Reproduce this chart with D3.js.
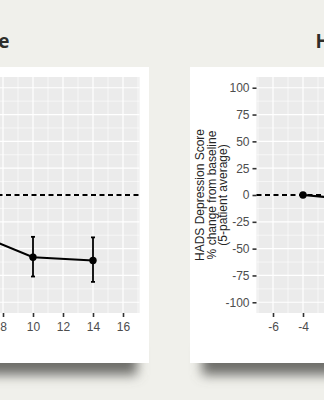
<!DOCTYPE html>
<html>
<head>
<meta charset="utf-8">
<script src="https://cdn.jsdelivr.net/npm/d3@7"></script>
<style>
  html, body { margin: 0; padding: 0; background: #f0f0eb; }
  svg { display: block; }
</style>
</head>
<body>
<svg id="chart" width="324" height="400"></svg>
<script>
// ---- data ----
const xTicks = [-6, -4, -2, 0, 2, 4, 6, 8, 10, 12, 14, 16];
const yTicks = [-100, -75, -50, -25, 0, 25, 50, 75, 100];

const anxietyWeeks = [6, 10, 14];
const anxietyMean  = [-35, -58, -61];
const anxietyLow   = [-55, -76, -81];
const anxietyHigh  = [-15, -39, -39.5];

const depressionWeeks = [-4, 0];
const depressionMean  = [0, -5];

const leftTitle  = "HADS Anxiety Score";
const rightTitle = "HADS Depression Score";
const yLabelLines = ["HADS Depression Score", "% change from baseline", "(5-patient average)"];

// ---- layout ----
const svg = d3.select("#chart");
const defs = svg.append("defs");
const blur = defs.append("filter").attr("id", "shadow")
  .attr("x", "-20%").attr("y", "-50%").attr("width", "140%").attr("height", "200%");
blur.append("feGaussianBlur").attr("stdDeviation", 6);

const panelW = 363, panelTop = 77, panelBottom = 313;
const x = d3.scaleLinear().domain([-7.1, 17.1]).range([0, panelW]);
const y = d3.scaleLinear().domain([-110, 110]).range([panelBottom, panelTop]);

// cards (with shadows)
function card(x0, x1) {
  svg.append("rect").attr("x", x0 + 12).attr("y", 347).attr("width", x1 - x0 - 24).attr("height", 28)
    .attr("fill", "#6e6e6a").attr("filter", "url(#shadow)");
  svg.append("rect").attr("x", x0).attr("y", 67).attr("width", x1 - x0).attr("height", 296)
    .attr("fill", "#ffffff");
}
card(-260, 149);
card(190, 600);

// titles
svg.append("text").attr("x", 9.5).attr("y", 47.5).attr("text-anchor", "end")
  .attr("font-family", "'Open Sans', 'DejaVu Sans', sans-serif").attr("font-weight", "bold")
  .attr("font-size", 19).attr("fill", "#2e2e2a").text(leftTitle);
svg.append("text").attr("x", 315.5).attr("y", 47.5).attr("text-anchor", "start")
  .attr("font-family", "'Open Sans', 'DejaVu Sans', sans-serif").attr("font-weight", "bold")
  .attr("font-size", 19).attr("fill", "#2e2e2a").text(rightTitle);

function panel(tx, weeks, mean, low, high, showYAxis) {
  const g = svg.append("g").attr("transform", `translate(${tx},0)`);
  g.append("rect").attr("x", 0).attr("y", panelTop).attr("width", panelW)
    .attr("height", panelBottom - panelTop).attr("fill", "#ebebeb");
  // minor grid
  const xMinor = d3.range(-7, 18, 2);
  const yMinor = d3.range(-87.5, 100, 25);
  g.selectAll(".vmin").data(xMinor).join("line")
    .attr("x1", d => x(d)).attr("x2", d => x(d)).attr("y1", panelTop).attr("y2", panelBottom)
    .attr("stroke", "#fff").attr("stroke-width", 0.6);
  g.selectAll(".hmin").data(yMinor).join("line")
    .attr("x1", 0).attr("x2", panelW).attr("y1", d => y(d)).attr("y2", d => y(d))
    .attr("stroke", "#fff").attr("stroke-width", 0.6);
  // major grid
  g.selectAll(".vmaj").data(xTicks).join("line")
    .attr("x1", d => x(d)).attr("x2", d => x(d)).attr("y1", panelTop).attr("y2", panelBottom)
    .attr("stroke", "#fff").attr("stroke-width", 1.2);
  g.selectAll(".hmaj").data(yTicks).join("line")
    .attr("x1", 0).attr("x2", panelW).attr("y1", d => y(d)).attr("y2", d => y(d))
    .attr("stroke", "#fff").attr("stroke-width", 1.2);

  // x axis
  const xa = g.append("g").attr("transform", `translate(0,${panelBottom})`)
    .call(d3.axisBottom(x).tickValues(xTicks).tickSize(4).tickPadding(5).tickFormat(d3.format("d")));
  xa.select(".domain").remove();
  xa.selectAll(".tick line").attr("stroke", "#333").attr("stroke-width", 1.6);
  xa.selectAll(".tick text").attr("fill", "#4d4d4d").attr("font-size", 12)
    .attr("font-family", "'Liberation Sans Narrow', 'Liberation Sans', Arial, sans-serif")
    .text(d => d < 0 ? "-" + Math.abs(d) : d);

  if (showYAxis) {
    const ya = g.append("g")
      .call(d3.axisLeft(y).tickValues(yTicks).tickSize(4).tickPadding(3));
    ya.select(".domain").remove();
    ya.selectAll(".tick line").attr("stroke", "#333").attr("stroke-width", 1.6);
    ya.selectAll(".tick text").attr("fill", "#4d4d4d").attr("font-size", 12)
      .attr("font-family", "'Liberation Sans Narrow', 'Liberation Sans', Arial, sans-serif")
      .text(d => d < 0 ? "-" + Math.abs(d) : d);
    const lbl = g.append("text").attr("transform", `translate(-52.5,${y(0)}) rotate(-90)`)
      .attr("text-anchor", "middle").attr("font-size", 12).attr("fill", "#262626")
      .attr("font-family", "'Liberation Sans', Arial, sans-serif");
    yLabelLines.forEach((t, i) => {
      lbl.append("tspan").attr("x", 0).attr("dy", i === 0 ? 0 : 11.5).text(t);
    });
  }

  // reference line
  g.append("line").attr("x1", 0).attr("x2", panelW).attr("y1", y(0)).attr("y2", y(0))
    .attr("stroke", "#000").attr("stroke-width", 1.8).attr("stroke-dasharray", "5,3.5");

  const pts = weeks.map((w, i) => ({ w, m: mean[i], lo: low ? low[i] : null, hi: high ? high[i] : null }));
  g.append("path").datum(pts)
    .attr("d", d3.line().x(d => x(d.w)).y(d => y(d.m)))
    .attr("fill", "none").attr("stroke", "#000").attr("stroke-width", 2);

  const eb = pts.filter(d => d.lo !== null);
  g.selectAll(".eb").data(eb).join("line")
    .attr("x1", d => x(d.w)).attr("x2", d => x(d.w)).attr("y1", d => y(d.lo)).attr("y2", d => y(d.hi))
    .attr("stroke", "#000").attr("stroke-width", 1.8);
  g.selectAll(".capT").data(eb).join("line")
    .attr("x1", d => x(d.w) - 2).attr("x2", d => x(d.w) + 2).attr("y1", d => y(d.hi)).attr("y2", d => y(d.hi))
    .attr("stroke", "#000").attr("stroke-width", 1.8);
  g.selectAll(".capB").data(eb).join("line")
    .attr("x1", d => x(d.w) - 2).attr("x2", d => x(d.w) + 2).attr("y1", d => y(d.lo)).attr("y2", d => y(d.lo))
    .attr("stroke", "#000").attr("stroke-width", 1.8);

  g.selectAll(".pt").data(pts).join("circle")
    .attr("cx", d => x(d.w)).attr("cy", d => y(d.m)).attr("r", 3.7).attr("fill", "#000");
}

panel(-223.5, anxietyWeeks, anxietyMean, anxietyLow, anxietyHigh, false);
panel(256.5, depressionWeeks, depressionMean, null, null, true);
</script>
</body>
</html>
